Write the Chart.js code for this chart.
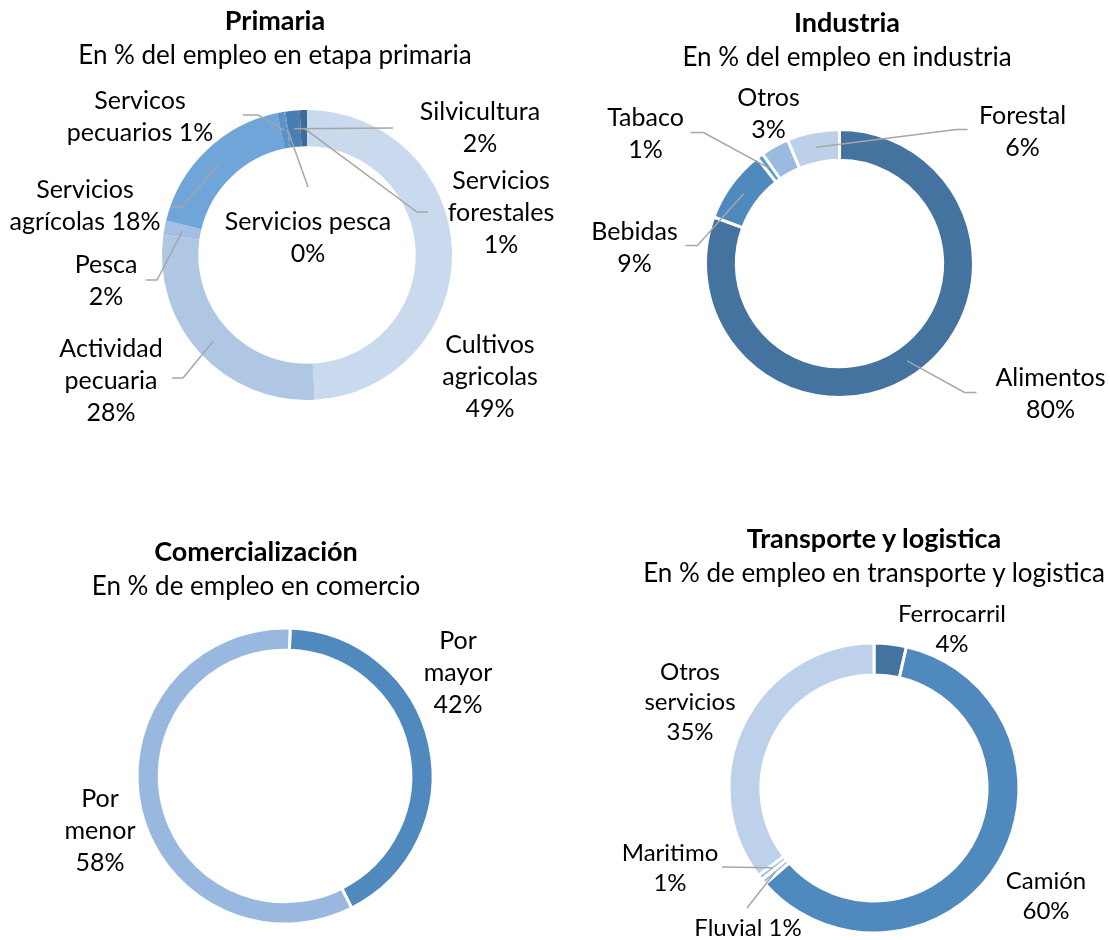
<!DOCTYPE html>
<html>
<head>
<meta charset="utf-8">
<title>Empleo por etapa</title>
<script src="https://cdn.jsdelivr.net/npm/chart.js@4.4.0/dist/chart.umd.min.js"></script>
<style>
  html, body { margin: 0; padding: 0; background: #fff; }
  #page { position: relative; width: 1110px; height: 940px; font-family: Lato, "Open Sans", sans-serif; color: #000; }
  #page canvas { position: absolute; left: 0; top: 0; }
  .ttl { position: absolute; width: 600px; text-align: center; white-space: nowrap; font-size: 26px; line-height: 35px; }
  .ttl b { display: block; font-size: 27px; }
</style>
</head>
<body>
<div id="page">
  <canvas id="c1" width="1110" height="940"></canvas>
  <canvas id="c2" width="1110" height="940"></canvas>
  <canvas id="c3" width="1110" height="940"></canvas>
  <canvas id="c4" width="1110" height="940"></canvas>
  <div class="ttl" style="left:-25px; top:2px"><b>Primaria</b>En % del empleo en etapa primaria</div>
  <div class="ttl" style="left:547px; top:4px"><b>Industria</b>En % del empleo en industria</div>
  <div class="ttl" style="left:-44px; top:533px"><b>Comercialización</b>En % de empleo en comercio</div>
  <div class="ttl" style="left:574px; top:520px"><b>Transporte y logistica</b>En % de empleo en transporte y logistica</div>
</div>

<script>
// values (percent of employment in each stage)
const primariaLabels = ['Cultivos agricolas', 'Actividad pecuaria', 'Pesca', 'Servicios agrícolas',
                        'Servicos pecuarios', 'Servicios pesca', 'Silvicultura', 'Servicios forestales'];
const primariaValues = [49.2, 28.1, 1.6, 17.9, 0.8, 0.1, 1.6, 0.8];

const industriaLabels = ['Alimentos', 'Bebidas', 'Tabaco', 'Otros', 'Forestal'];
const industriaValues = [80.4, 8.8, 0.8, 3.4, 6.3];

const comercioLabels = ['Por mayor', 'Por menor'];
const comercioValues = [42, 58];

const transporteLabels = ['Ferrocarril', 'Camión', 'Fluvial', 'Maritimo', 'Otros servicios'];
const transporteValues = [3.6, 59.9, 0.6, 0.6, 35.3];

// label placement, relative to the ring centre (at = text block centre, br = break after word n,
// line = leader points after the arc midpoint)
const primariaCallouts = [
  { at: [183, 122], br: [0, 1] },
  { at: [-196, 126], br: [0, 1], line: [[-124, 123], [-135, 123]] },
  { at: [-201, 26], br: [0], line: [[-150, 25], [-161, 25]] },
  { at: [-222, -49], br: [0], line: [[-125, -48], [-137, -48]] },
  { at: [-167, -138], br: [0], line: [[-49, -140], [-64, -140]] },
  { at: [1, -17], br: [1], line: [[1, -68]] },
  { at: [173, -127], br: [0], line: [[86, -127]] },
  { at: [194, -42], br: [0, 1], line: [[110, -43], [121, -43]] }
];
const industriaCallouts = [
  { at: [211, 130], br: [0], line: [[125, 129], [137, 129]] },
  { at: [-205, -16], br: [0], line: [[-142, -18], [-154, -18]] },
  { at: [-194, -130], br: [0], line: [[-136, -131], [-149, -131]] },
  { at: [-71, -150], br: [0] },
  { at: [183, -132], br: [0], line: [[117, -134], [128, -134]] }
];
const comercioCallouts = [
  { at: [173, -103], br: [0, 1] },
  { at: [-185, 55], br: [0, 1] }
];
const transporteCallouts = [
  { at: [78, -159], br: [0] },
  { at: [172, 108], br: [0] },
  { at: [-126, 140], br: [], line: [[-127, 120]] },
  { at: [-204, 80], br: [0], line: [[-152, 79]] },
  { at: [-184, -86], br: [0, 1] }
];

const callouts = {
  id: 'callouts',
  afterDatasetsDraw(chart, args, opts) {
    const ctx = chart.ctx;
    const meta = chart.getDatasetMeta(0);
    const area = chart.chartArea;
    const cx = (area.left + area.right) / 2;
    const cy = (area.top + area.bottom) / 2;
    const labels = chart.data.labels;
    const values = chart.data.datasets[0].data;
    ctx.save();
    opts.items.forEach((it, i) => {
      if (it.line) {
        const p = meta.data[i].getCenterPoint();
        ctx.beginPath();
        ctx.moveTo(p.x, p.y);
        it.line.forEach(q => ctx.lineTo(cx + q[0], cy + q[1]));
        ctx.strokeStyle = '#a6a6a6';
        ctx.lineWidth = 1.5;
        ctx.stroke();
      }
      const words = (labels[i] + ' ' + Math.round(values[i]) + '%').split(' ');
      const lines = [];
      let cur = [];
      words.forEach((w, k) => {
        cur.push(w);
        if (it.br.includes(k)) { lines.push(cur.join(' ')); cur = []; }
      });
      if (cur.length) lines.push(cur.join(' '));
      ctx.font = opts.font;
      ctx.fillStyle = '#000';
      ctx.textAlign = 'center';
      ctx.textBaseline = 'middle';
      lines.forEach((s, k) => {
        ctx.fillText(s, cx + it.at[0], cy + it.at[1] + (k - (lines.length - 1) / 2) * opts.lineHeight);
      });
    });
    ctx.restore();
  }
};

function ring(id, labels, values, colors, centre, radius, cutout, border, rotation, items, font, lineHeight) {
  const W = 1110, H = 940;
  return new Chart(document.getElementById(id), {
    type: 'doughnut',
    data: {
      labels: labels,
      datasets: [{
        data: values,
        backgroundColor: colors,
        borderColor: '#ffffff',
        borderWidth: border
      }]
    },
    options: {
      responsive: false,
      animation: false,
      events: [],
      radius: radius,
      cutout: cutout,
      rotation: rotation,
      layout: {
        padding: {
          left: centre[0] - radius,
          right: W - centre[0] - radius,
          top: centre[1] - radius,
          bottom: H - centre[1] - radius
        }
      },
      plugins: {
        legend: { display: false },
        tooltip: { enabled: false },
        callouts: { items: items, font: font, lineHeight: lineHeight }
      }
    },
    plugins: [callouts]
  });
}

const labelFont = '25px Lato, "Open Sans", sans-serif';

ring('c1', primariaLabels, primariaValues,
  ['#c9d9ee', '#b0c7e4', '#a3c0e4', '#6fa5d8', '#5b93cb', '#5088c2', '#4a7db3', '#3e6c99'],
  [307, 255], 145, '75%', 0, 0, primariaCallouts, labelFont, 32);

ring('c2', industriaLabels, industriaValues,
  ['#44739f', '#4f89bd', '#5b9bd5', '#9bbae0', '#bcd0ea'],
  [839.5, 263.5], 134, '77%', 3, 0, industriaCallouts, labelFont, 32);

ring('c3', comercioLabels, comercioValues,
  ['#4f89bd', '#99b8df'],
  [285, 776], 148, '85%', 3, 2, comercioCallouts, labelFont, 32);

ring('c4', transporteLabels, transporteValues,
  ['#44739f', '#4f89bd', '#9dbde3', '#a5c3e6', '#bdd1eb'],
  [874, 788], 145, '78%', 3, 0, transporteCallouts, '24px Lato, "Open Sans", sans-serif', 30);
</script>
</body>
</html>
